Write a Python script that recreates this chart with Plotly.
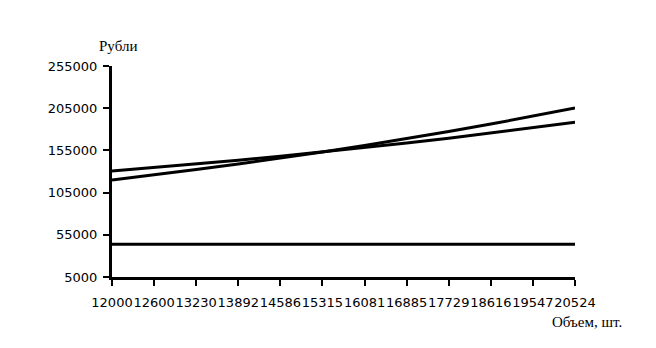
import plotly.graph_objects as go

categories = ["12000", "12600", "13230", "13892", "14586", "15315",
              "16081", "16885", "17729", "18616", "19547", "20524"]
revenue = [120000, 126000, 132300, 138900, 145900, 153200,
           160800, 168900, 177300, 186200, 195500, 205200]
total_costs = [130600, 134700, 138900, 143400, 148100, 153100,
               158300, 163700, 169500, 175500, 181800, 188300]
fixed_costs = [43700] * 12
y_ticks = [5000, 55000, 105000, 155000, 205000, 255000]

xpos = list(range(len(categories)))

fig = go.Figure()
for name, vals in [("Выручка", revenue), ("Затраты", total_costs), ("Постоянные", fixed_costs)]:
    fig.add_trace(go.Scatter(x=xpos, y=vals, mode="lines", name=name,
                             line=dict(color="black", width=3), showlegend=False))

fig.update_layout(
    width=656, height=348,
    margin=dict(l=112, r=81, t=66, b=71),
    plot_bgcolor="white", paper_bgcolor="white",
    font=dict(family="DejaVu Sans", size=13, color="black"),
    xaxis=dict(range=[0, 11], tickvals=xpos, ticktext=categories,
               showgrid=False, zeroline=False, showline=True, linecolor="black",
               linewidth=3, ticks="outside", ticklen=6, tickwidth=2, tickcolor="black",
               tickangle=0, tickfont=dict(size=13), ticklabelstandoff=5),
    yaxis=dict(range=[5000, 255000], tickvals=y_ticks, ticktext=[str(v) for v in y_ticks],
               showgrid=False, zeroline=False, showline=True, linecolor="black",
               linewidth=3, ticks="outside", ticklen=6, tickwidth=2, tickcolor="black",
               tickfont=dict(size=13), ticklabelstandoff=3),
    annotations=[
        dict(text="Рубли", xref="paper", yref="paper", x=0.012, y=1.097,
             showarrow=False, font=dict(family="Liberation Serif", size=15, color="black"),
             xanchor="center", yanchor="middle"),
        dict(text="Объем, шт.", xref="paper", yref="paper", x=1.026, y=-0.215,
             showarrow=False, font=dict(family="Liberation Serif", size=15, color="black"),
             xanchor="center", yanchor="middle"),
    ],
)
fig.write_html("out.html")
